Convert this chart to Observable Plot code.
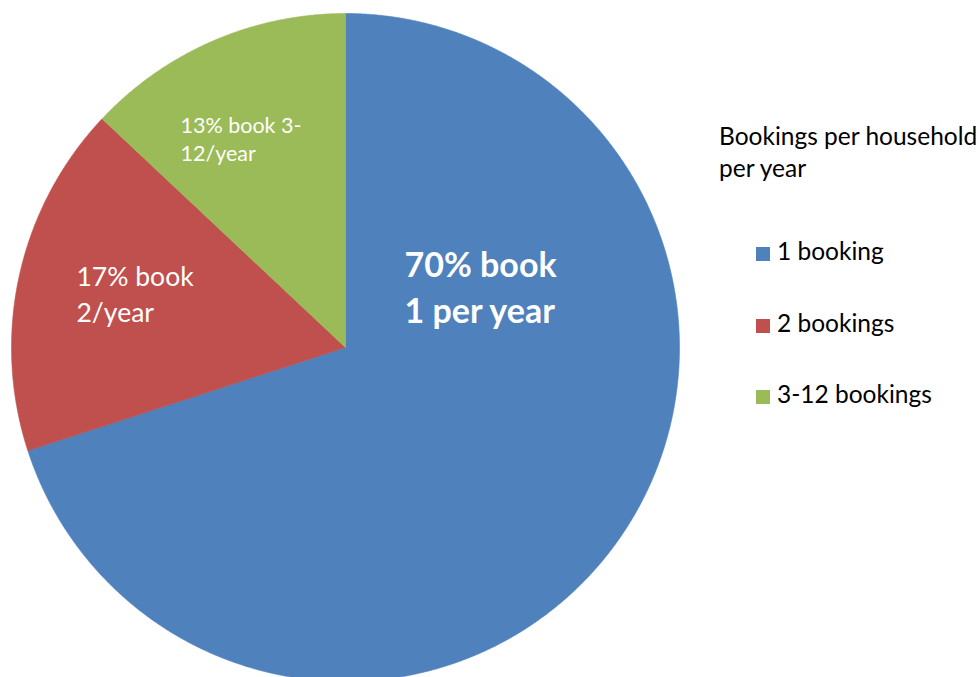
<!DOCTYPE html>
<html><head><meta charset="utf-8">
<script src="https://cdn.jsdelivr.net/npm/d3@7"></script>
<script src="https://cdn.jsdelivr.net/npm/@observablehq/plot@0.6"></script>
<style>
body{margin:0;background:#fff;}
#wrap{position:relative;width:980px;height:677px;overflow:hidden;font-family:Lato,"Open Sans",sans-serif;}
#wrap svg{position:absolute;left:0;top:0;overflow:hidden;}
#legend{position:absolute;left:719px;top:120px;color:#000;font-size:24.5px;}
#legend .title{line-height:32px;white-space:pre;}
#legend .item{position:absolute;left:37px;white-space:nowrap;height:30px;line-height:30px;}
#legend .sw{display:inline-block;width:14px;height:14px;margin-right:7px;vertical-align:-1px;}
</style></head><body><div id="wrap"><div id="legend"></div></div>
<script>
const categories = ["1 booking", "2 bookings", "3-12 bookings"];
const shares = [70, 17, 13];
const sliceLabels = ["70% book\n1 per year", "17% book\n2/year", "13% book 3-\n12/year"];
const colors = ["#4F81BD", "#C0504D", "#9BBB59"];
const legendTitle = "Bookings per household\nper year";

const W = 980, H = 677, cx = 345, cy = 347, R = 334;
const arcs = d3.pie().sort(null).value(d => d)(shares);
const pts = [];
arcs.forEach((a, i) => {
  const cat = categories[i];
  pts.push({cat, x: 0, y: 0});
  const n = Math.max(2, Math.ceil((a.endAngle - a.startAngle) / 0.005));
  for (let k = 0; k <= n; k++) {
    const t = a.startAngle + (a.endAngle - a.startAngle) * k / n;
    pts.push({cat, x: Math.sin(t), y: Math.cos(t)});
  }
  pts.push({cat, x: 0, y: 0});
});

// label layout (pixel anchors converted to pie units)
const px = (x) => (x - cx) / R, py = (y) => (cy - y) / R;
const labelLayout = [
  {x: px(404), y: py(285), size: 34, weight: "bold", lh: 1.36},
  {x: px(76), y: py(292), size: 26.5, weight: "normal", lh: 1.36},
  {x: px(180), y: py(138), size: 21.5, weight: "normal", lh: 1.3}
];
const labelMarks = sliceLabels.map((t, i) => Plot.text([t], {
  x: labelLayout[i].x, y: labelLayout[i].y, text: d => d,
  textAnchor: "start", lineAnchor: "middle", fill: "white",
  fontSize: labelLayout[i].size, fontWeight: labelLayout[i].weight,
  lineHeight: labelLayout[i].lh, fontFamily: "Lato, 'Open Sans', sans-serif"
}));

const chart = Plot.plot({
  width: W, height: H, margin: 0,
  style: {background: "transparent", overflow: "hidden"},
  x: {domain: [-cx / R, (W - cx) / R], axis: null},
  y: {domain: [-(H - cy) / R, cy / R], axis: null},
  color: {domain: categories, range: colors},
  marks: [
    Plot.line(pts, {x: "x", y: "y", z: "cat", fill: "cat", stroke: "cat", strokeWidth: 0.6, curve: "linear"}),
    ...labelMarks
  ]
});
const wrap = document.getElementById("wrap");
wrap.insertBefore(chart, wrap.firstChild);

const color = chart.scale("color");
const legend = document.getElementById("legend");
const title = document.createElement("div");
title.className = "title";
title.textContent = legendTitle;
legend.appendChild(title);
categories.forEach((c, i) => {
  const it = document.createElement("div");
  it.className = "item";
  it.style.top = (116 + i * 71.5) + "px";
  const sw = document.createElement("span");
  sw.className = "sw";
  sw.style.background = color.apply(c);
  it.appendChild(sw);
  it.appendChild(document.createTextNode(c));
  legend.appendChild(it);
});
</script></body></html>
